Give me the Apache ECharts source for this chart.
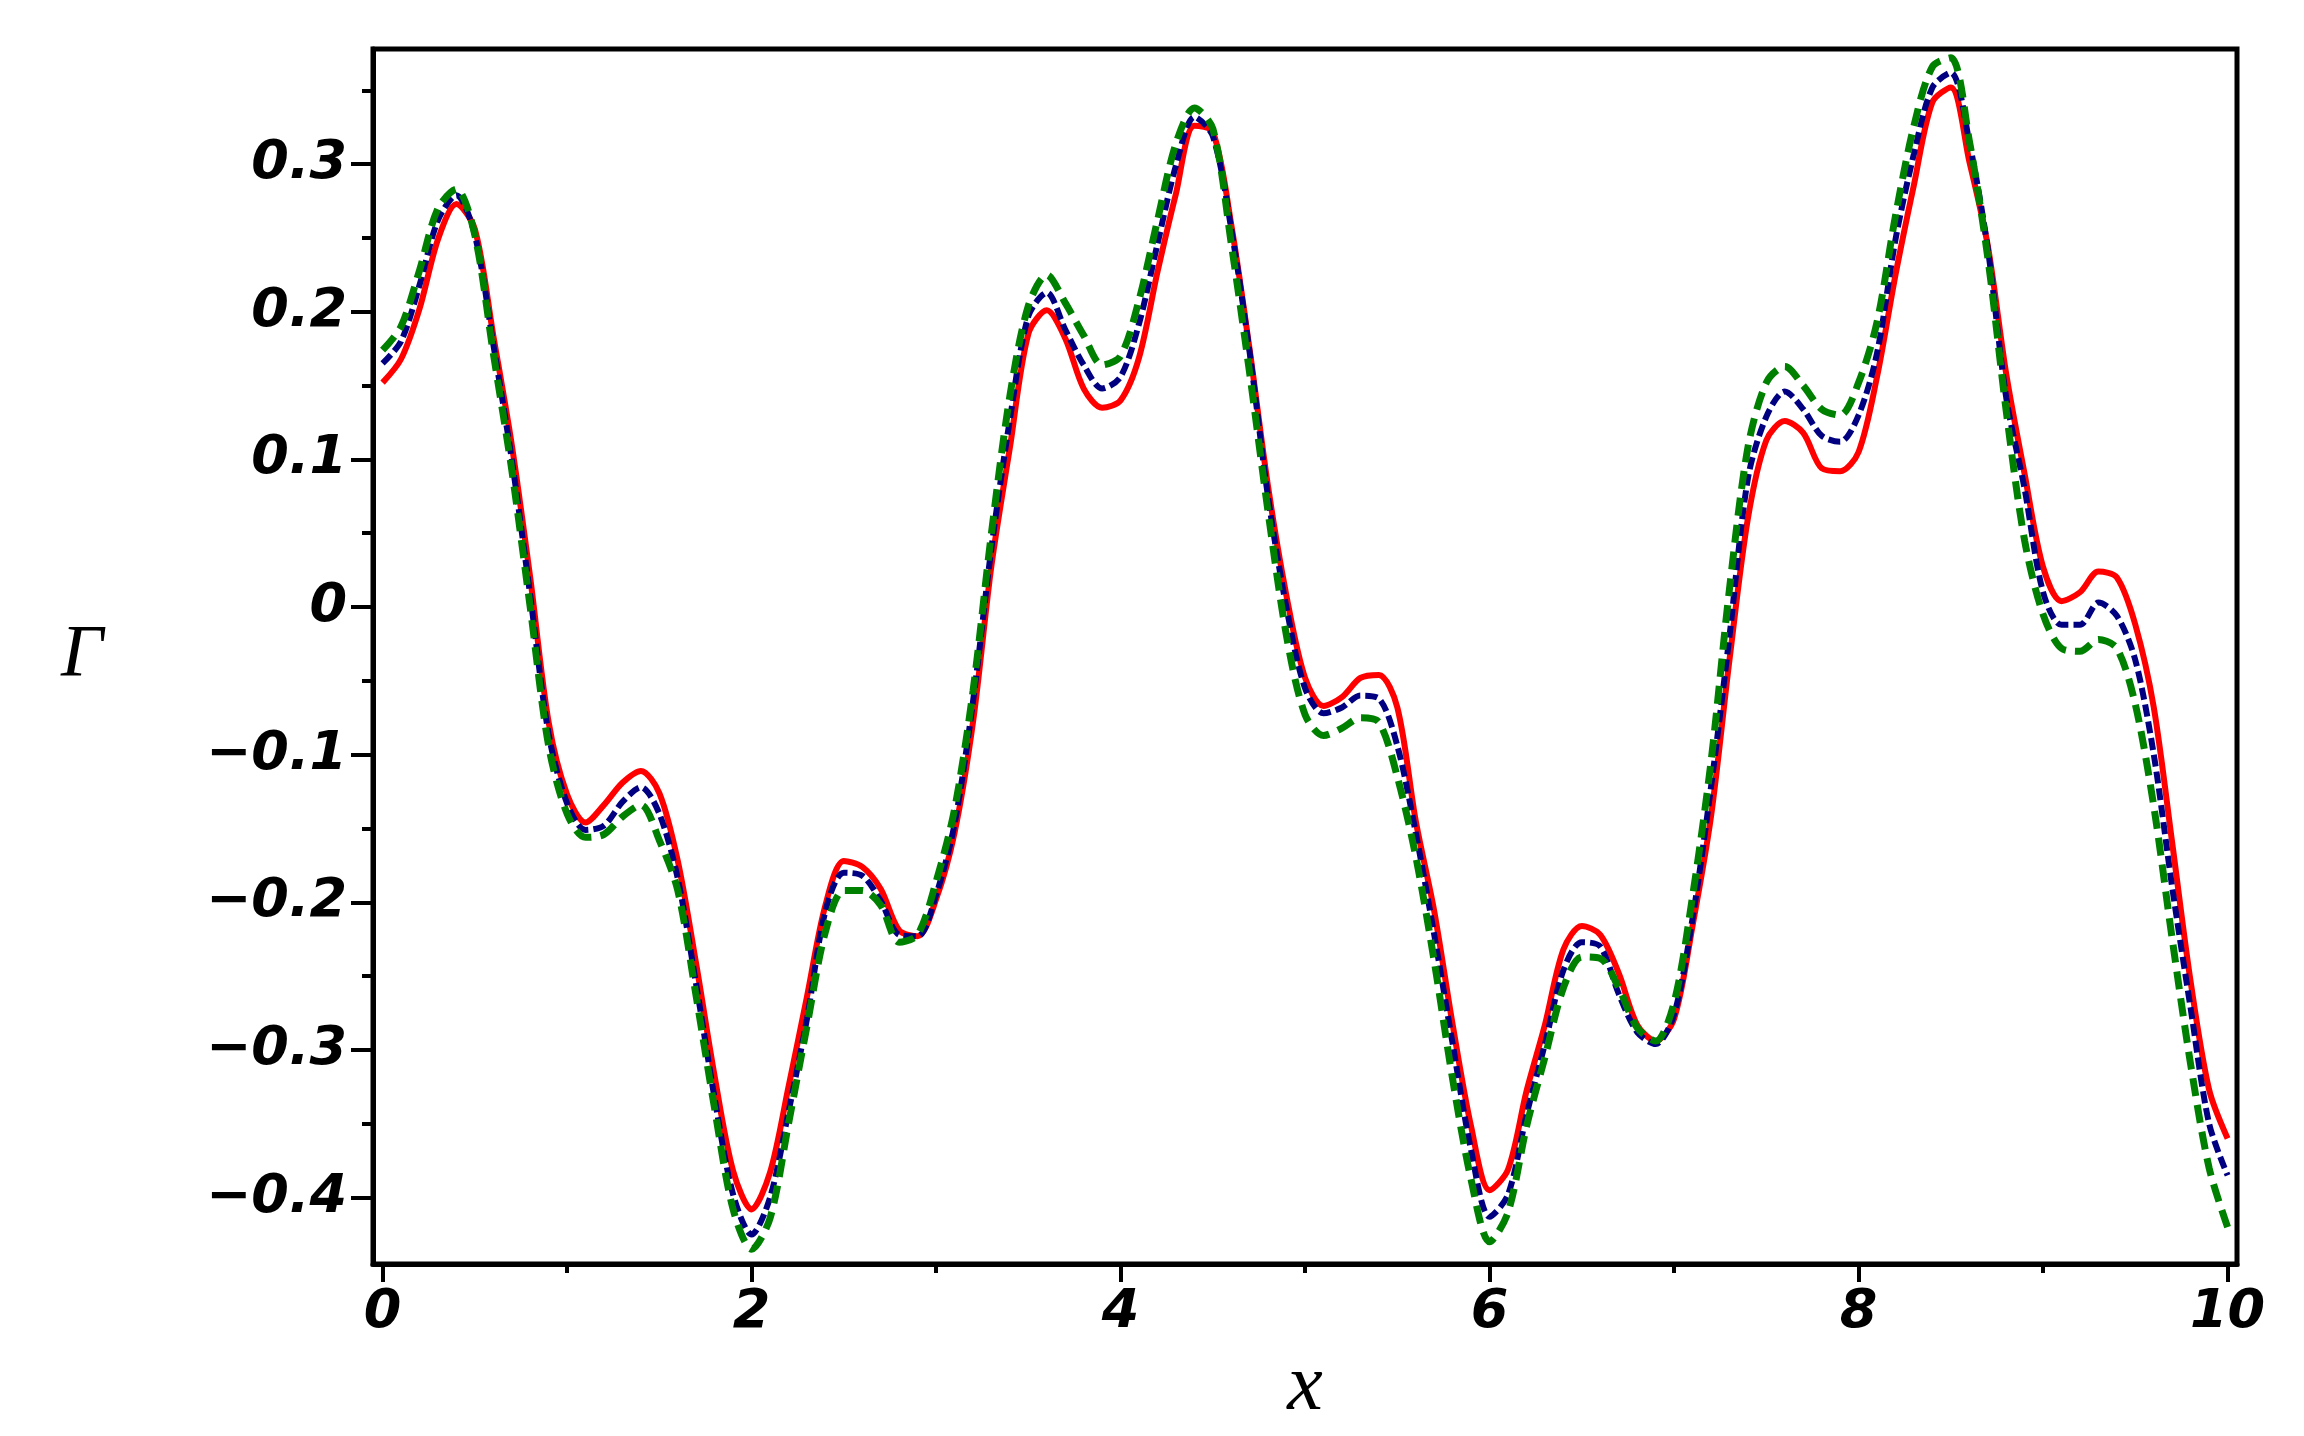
<!DOCTYPE html>
<html>
<head>
<meta charset="utf-8">
<script src="https://cdn.jsdelivr.net/npm/echarts@6/dist/echarts.min.js"></script>
<style>
  html, body { margin: 0; padding: 0; background: #fff; }
  #main { width: 2304px; height: 1436px; }
</style>
</head>
<body>
<div id="main"></div>
<script>
// sample positions along x
const xs = [0, 0.1, 0.2, 0.3, 0.4, 0.5, 0.6, 0.7, 0.8, 0.9,
    1, 1.1, 1.2, 1.3, 1.4, 1.5, 1.6, 1.7, 1.8, 1.9,
    2, 2.1, 2.2, 2.3, 2.4, 2.5, 2.6, 2.7, 2.8, 2.9,
    3, 3.1, 3.2, 3.3, 3.4, 3.5, 3.6, 3.7, 3.8, 3.9,
    4, 4.1, 4.2, 4.3, 4.4, 4.5, 4.6, 4.7, 4.8, 4.9,
    5, 5.1, 5.2, 5.3, 5.4, 5.5, 5.6, 5.7, 5.8, 5.9,
    6, 6.1, 6.2, 6.3, 6.4, 6.5, 6.6, 6.7, 6.8, 6.9,
    7, 7.1, 7.2, 7.3, 7.4, 7.5, 7.6, 7.7, 7.8, 7.9,
    8, 8.1, 8.2, 8.3, 8.4, 8.5, 8.6, 8.7, 8.8, 8.9,
    9, 9.1, 9.2, 9.3, 9.4, 9.5, 9.6, 9.7, 9.8, 9.9, 10];

// red solid curve
const gammaRed = [0.152, 0.168, 0.202, 0.249, 0.273, 0.256, 0.184, 0.110, 0.020, -0.078,
    -0.127, -0.146, -0.134, -0.119, -0.111, -0.126, -0.172, -0.242, -0.318, -0.382,
    -0.408, -0.383, -0.325, -0.264, -0.202, -0.172, -0.176, -0.191, -0.219, -0.223,
    -0.198, -0.153, -0.078, 0.028, 0.108, 0.185, 0.201, 0.182, 0.148, 0.135,
    0.140, 0.169, 0.227, 0.280, 0.326, 0.322, 0.259, 0.174, 0.081, 0.007,
    -0.048, -0.067, -0.061, -0.048, -0.046, -0.068, -0.145, -0.206, -0.283, -0.352,
    -0.395, -0.381, -0.328, -0.283, -0.232, -0.216, -0.222, -0.248, -0.283, -0.294,
    -0.279, -0.216, -0.142, -0.036, 0.060, 0.113, 0.126, 0.118, 0.094, 0.092,
    0.105, 0.156, 0.225, 0.286, 0.342, 0.352, 0.302, 0.245, 0.158, 0.090,
    0.027, 0.004, 0.010, 0.024, 0.020, -0.012, -0.068, -0.160, -0.254, -0.327, -0.360];

// navy dashed curve
const gammaNavy = [0.165, 0.180, 0.218, 0.262, 0.279, 0.252, 0.178, 0.100, 0.008, -0.086,
    -0.133, -0.151, -0.148, -0.132, -0.122, -0.140, -0.184, -0.256, -0.333, -0.398,
    -0.425, -0.400, -0.342, -0.279, -0.206, -0.180, -0.182, -0.199, -0.222, -0.223,
    -0.195, -0.147, -0.064, 0.040, 0.127, 0.197, 0.213, 0.188, 0.164, 0.148,
    0.156, 0.192, 0.246, 0.299, 0.332, 0.319, 0.256, 0.172, 0.074, -0.001,
    -0.055, -0.072, -0.068, -0.060, -0.062, -0.094, -0.153, -0.222, -0.296, -0.368,
    -0.413, -0.398, -0.344, -0.296, -0.246, -0.227, -0.230, -0.262, -0.288, -0.296,
    -0.276, -0.211, -0.122, -0.020, 0.087, 0.129, 0.146, 0.134, 0.116, 0.112,
    0.130, 0.172, 0.249, 0.307, 0.352, 0.362, 0.315, 0.243, 0.142, 0.080,
    0.010, -0.012, -0.012, 0.003, -0.006, -0.036, -0.100, -0.190, -0.272, -0.350, -0.385];

// green dashed curve
const gammaGreen = [0.174, 0.190, 0.228, 0.270, 0.283, 0.252, 0.172, 0.093, 0.000, -0.094,
    -0.140, -0.156, -0.154, -0.142, -0.134, -0.158, -0.192, -0.264, -0.340, -0.408,
    -0.435, -0.414, -0.350, -0.284, -0.220, -0.192, -0.192, -0.202, -0.227, -0.222,
    -0.186, -0.137, -0.057, 0.050, 0.143, 0.204, 0.225, 0.206, 0.184, 0.164,
    0.170, 0.208, 0.262, 0.314, 0.338, 0.324, 0.246, 0.158, 0.064, -0.020,
    -0.073, -0.087, -0.082, -0.075, -0.078, -0.115, -0.169, -0.240, -0.320, -0.388,
    -0.430, -0.410, -0.352, -0.305, -0.258, -0.237, -0.238, -0.258, -0.285, -0.294,
    -0.268, -0.196, -0.105, 0.012, 0.108, 0.152, 0.163, 0.150, 0.134, 0.130,
    0.152, 0.193, 0.265, 0.326, 0.366, 0.372, 0.316, 0.237, 0.133, 0.045,
    -0.005, -0.028, -0.030, -0.022, -0.028, -0.066, -0.135, -0.225, -0.310, -0.380, -0.420];

const xMajor = [0, 2, 4, 6, 8, 10];
const xMinor = [1, 3, 5, 7, 9];
const yMajor = [-0.4, -0.3, -0.2, -0.1, 0, 0.1, 0.2, 0.3];
const yMinor = [-0.35, -0.25, -0.15, -0.05, 0.05, 0.15, 0.25, 0.35];

const chart = echarts.init(document.getElementById('main'));

const tickFont = {
    fontFamily: 'DejaVu Sans',
    fontStyle: 'italic',
    fontWeight: 'bold',
    fontSize: 54,
    color: '#000'
};

function pairs(ys) {
    return xs.map((x, i) => [x, ys[i]]);
}

function yLabel(v) {
    if (Math.abs(v) < 1e-9) return '0';
    return v < 0 ? '\u2212' + Math.abs(v).toFixed(1) : v.toFixed(1);
}

const xRange = { min: -0.052, max: 10.051 };
const yRange = { min: -0.445, max: 0.378 };

chart.setOption({
    animation: false,
    backgroundColor: '#fff',
    grid: {
        left: 373,
        right: 67,
        top: 49,
        bottom: 172,
        show: true,
        borderColor: '#000',
        borderWidth: 5
    },
    xAxis: [
        {
            type: 'value',
            min: xRange.min,
            max: xRange.max,
            position: 'bottom',
            name: 'x',
            nameLocation: 'middle',
            nameGap: 84,
            nameTextStyle: {
                fontFamily: 'Liberation Serif',
                fontStyle: 'italic',
                fontSize: 80,
                color: '#000'
            },
            axisLine: { show: true, onZero: false, lineStyle: { color: '#000', width: 5 } },
            axisTick: { show: true, length: 18, customValues: xMajor, lineStyle: { color: '#000', width: 4 } },
            axisLabel: Object.assign({ customValues: xMajor, margin: 22 }, tickFont),
            splitLine: { show: false }
        },
        {
            type: 'value',
            min: xRange.min,
            max: xRange.max,
            position: 'bottom',
            axisLine: { show: false, onZero: false },
            axisTick: { show: true, length: 9, customValues: xMinor, lineStyle: { color: '#000', width: 4 } },
            axisLabel: { show: false },
            splitLine: { show: false }
        }
    ],
    yAxis: [
        {
            type: 'value',
            min: yRange.min,
            max: yRange.max,
            position: 'left',
            name: '\u0393',
            nameLocation: 'middle',
            nameRotate: 0,
            nameGap: 270,
            nameTextStyle: {
                fontFamily: 'Liberation Serif',
                fontStyle: 'italic',
                fontSize: 74,
                color: '#000'
            },
            axisLine: { show: true, onZero: false, lineStyle: { color: '#000', width: 5 } },
            axisTick: { show: true, length: 22, customValues: yMajor, lineStyle: { color: '#000', width: 4 } },
            axisLabel: Object.assign({ customValues: yMajor, margin: 26, formatter: yLabel }, tickFont),
            splitLine: { show: false }
        },
        {
            type: 'value',
            min: yRange.min,
            max: yRange.max,
            position: 'left',
            axisLine: { show: false, onZero: false },
            axisTick: { show: true, length: 11, customValues: yMinor, lineStyle: { color: '#000', width: 4 } },
            axisLabel: { show: false },
            splitLine: { show: false }
        }
    ],
    series: [
        {
            name: 'red',
            type: 'line',
            smooth: 0.3,
            symbol: 'none',
            lineStyle: { color: '#ff0000', width: 6 },
            data: pairs(gammaRed)
        },
        {
            name: 'navy',
            type: 'line',
            smooth: 0.3,
            symbol: 'none',
            lineStyle: { color: '#000080', width: 6, type: [12, 5] },
            data: pairs(gammaNavy)
        },
        {
            name: 'green',
            type: 'line',
            smooth: 0.3,
            symbol: 'none',
            lineStyle: { color: '#008000', width: 7, type: [18, 9] },
            data: pairs(gammaGreen)
        }
    ]
});

window.addEventListener('resize', () => {
    chart.resize();
});
</script>
</body>
</html>
